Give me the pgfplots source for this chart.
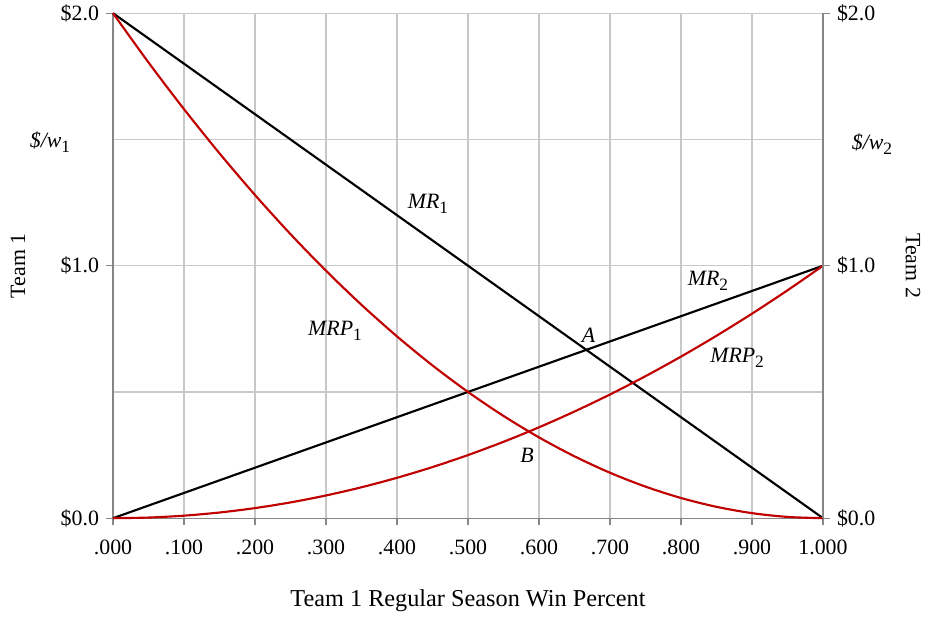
\documentclass[border=0pt]{standalone}
\usepackage{fontspec}
\setmainfont{Liberation Serif}
\usepackage{pgfplots}
\pgfplotsset{compat=1.18}
\definecolor{gridc}{HTML}{C8C8C8}
\definecolor{axc}{HTML}{868686}
\definecolor{redc}{HTML}{C00000}
\newcommand\sub[1]{\raisebox{-0.5ex}{\fontsize{13}{15}\selectfont #1}}
\begin{document}
\begin{tikzpicture}[font=\fontsize{16.4}{19.7}\selectfont]
\begin{axis}[name=main, scale only axis, width=532.5pt, height=378.75pt,
  xmin=0, xmax=1, ymin=0, ymax=2, clip=false,
  axis x line*=bottom, axis y line*=left,
  axis line style={axc, line width=1pt},
  xtick={0,0.1,0.2,0.3,0.4,0.5,0.6,0.7,0.8,0.9,1},
  xticklabels={.000,.100,.200,.300,.400,.500,.600,.700,.800,.900,1.000},
  ytick={0,1,2}, yticklabels={\$0.0,\$1.0,\$2.0},
  minor ytick={0.5,1.5},
  xmajorgrids, ymajorgrids, yminorgrids,
  major grid style={gridc, line width=1pt},
  minor grid style={gridc, line width=1pt},
  tick style={axc, line width=1pt},
  major tick length=5pt, minor tick length=0pt,
  tick align=outside,
  xticklabel style={yshift=-8pt},
  yticklabel style={xshift=-2pt},
]
\addplot[black, line width=1.6pt] coordinates {(0,2) (1,0)};
\addplot[black, line width=1.6pt] coordinates {(0,0) (1,1)};
\addplot[redc, line width=1.6pt, smooth] coordinates {
(0,2) (0.05,1.805) (0.1,1.62) (0.15,1.445) (0.2,1.28) (0.25,1.125) (0.3,0.98)
(0.35,0.845) (0.4,0.72) (0.45,0.605) (0.5,0.5) (0.55,0.405) (0.6,0.32)
(0.65,0.245) (0.7,0.18) (0.75,0.125) (0.8,0.08) (0.85,0.045) (0.9,0.02)
(0.95,0.005) (1,0)};
\addplot[redc, line width=1.6pt, smooth] coordinates {
(0,0) (0.05,0.0025) (0.1,0.01) (0.15,0.0225) (0.2,0.04) (0.25,0.0625) (0.3,0.09)
(0.35,0.1225) (0.4,0.16) (0.45,0.2025) (0.5,0.25) (0.55,0.3025) (0.6,0.36)
(0.65,0.4225) (0.7,0.49) (0.75,0.5625) (0.8,0.64) (0.85,0.7225) (0.9,0.81)
(0.95,0.9025) (1,1)};
\node at (axis cs:0.4437,1.2436) {\textit{MR}\sub{1}};
\node at (axis cs:0.3127,0.7406) {\textit{MRP}\sub{1}};
\node at (axis cs:0.670,0.725) {\textit{A}};
\node at (axis cs:0.583,0.2495) {\textit{B}};
\node at (axis cs:0.838,0.9386) {\textit{MR}\sub{2}};
\node at (axis cs:0.879,0.634) {\textit{MRP}\sub{2}};
\node[rotate=90] at ([xshift=-71.25pt]axis cs:0,1) {Team 1};
\node at ([xshift=-47.25pt]axis cs:0,1.49) {\textit{\$/w}\sub{1}};
\node at ([xshift=36.75pt]axis cs:1,1.48) {\textit{\$/w}\sub{2}};
\node[rotate=-90] at ([xshift=67.5pt]axis cs:1,1) {Team 2};
\node[font=\fontsize{18.2}{21.8}\selectfont] at ([yshift=-62.25pt]axis cs:0.5,0) {Team 1 Regular Season Win Percent};
\end{axis}
\begin{axis}[scale only axis, width=532.5pt, height=378.75pt,
  xmin=0, xmax=1, ymin=0, ymax=2,
  axis x line=none, axis y line*=right,
  axis line style={axc, line width=1pt},
  ytick={0,1,2}, yticklabels={\$0.0,\$1.0,\$2.0},
  tick style={axc, line width=1pt},
  major tick length=5pt, tick align=outside,
  yticklabel style={xshift=2pt},
]
\end{axis}
\path ([xshift=-84.75pt,yshift=-75.75pt]main.south west) rectangle ([xshift=78pt,yshift=9pt]main.north east);
\end{tikzpicture}
\end{document}
